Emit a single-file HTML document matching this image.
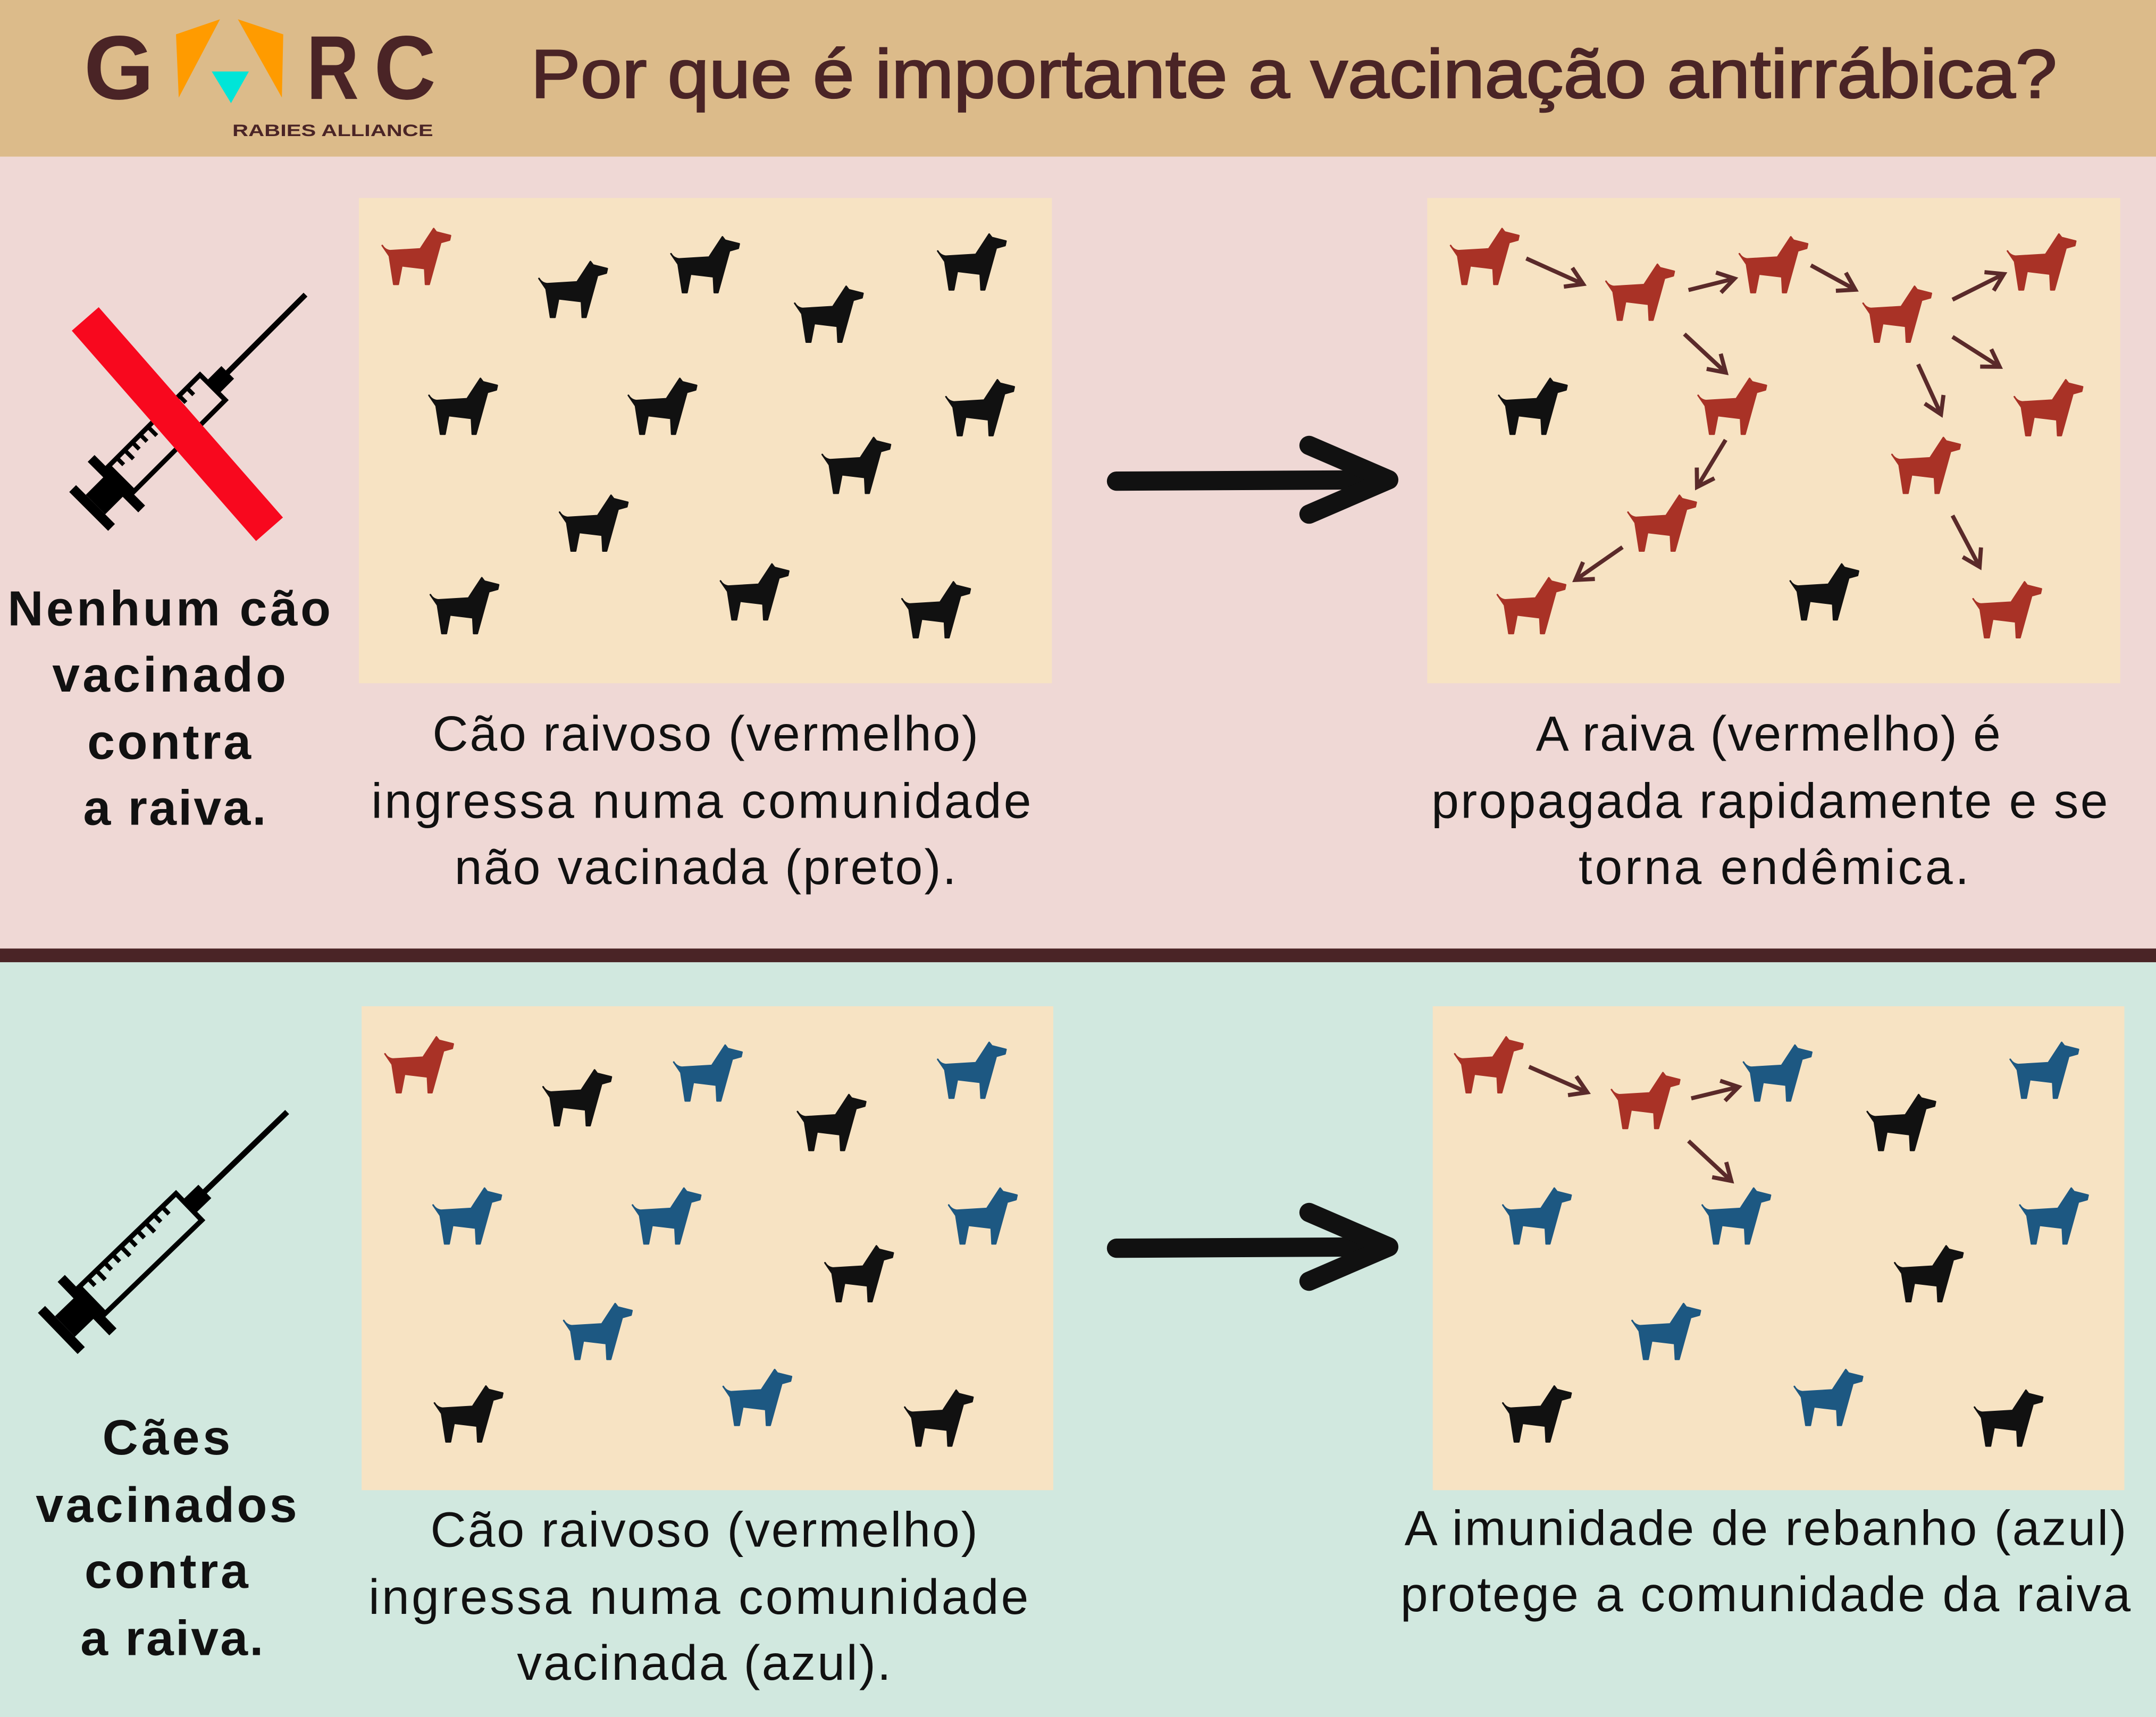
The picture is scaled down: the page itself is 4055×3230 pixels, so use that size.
<!DOCTYPE html>
<html><head><meta charset="utf-8"><style>html,body{margin:0;padding:0;overflow:hidden}svg{display:block}</style></head>
<body>
<svg width="4055" height="3230" viewBox="0 0 1568 1249" preserveAspectRatio="none" xmlns="http://www.w3.org/2000/svg" font-family="'Liberation Sans', sans-serif">
<defs>
<path id="dog" d="M0,12.6 Q2,16 5.8,16.4 L27.7,15.1 L37.4,0.3 L39.3,2.8 L49.6,5.4 L48.9,8.6 L42.5,10.4 L34.1,40.8 L31.5,40.8 L30.9,29.3 L14.2,27.3 L11.6,40.8 L8.4,40.8 L5.2,20.2 Z" stroke-width="1.2" stroke-linejoin="round"/>
<marker id="ah" markerWidth="6" markerHeight="6" refX="4" refY="3" orient="auto" markerUnits="strokeWidth"><path d="M0.5,0.5 L4.5,3 L0.5,5.5" fill="none" stroke="#5a2a2a" stroke-width="1"/></marker>
<g id="syr">
<rect x="0" y="-20" width="7" height="40"/>
<rect x="7" y="-10" width="19" height="20"/>
<rect x="25" y="-26" width="7" height="52"/>
<rect x="33.5" y="-13" width="94" height="26" fill="none" stroke="#000" stroke-width="3.5"/>
<rect x="127" y="-6.5" width="16" height="13"/>
<rect x="142" y="-2" width="81" height="4"/>
<g stroke="#000" stroke-width="3">
<line x1="42" y1="-13" x2="42" y2="-6"/><line x1="50" y1="-13" x2="50" y2="-4"/><line x1="58" y1="-13" x2="58" y2="-6"/><line x1="66" y1="-13" x2="66" y2="-6"/><line x1="74" y1="-13" x2="74" y2="-4"/><line x1="82" y1="-13" x2="82" y2="-6"/><line x1="90" y1="-13" x2="90" y2="-6"/><line x1="98" y1="-13" x2="98" y2="-4"/><line x1="106" y1="-13" x2="106" y2="-6"/><line x1="114" y1="-13" x2="114" y2="-6"/>
</g>
</g>
</defs>
<rect x="0" y="0" width="1568" height="114" fill="#dcbb8a"/>
<rect x="0" y="114" width="1568" height="577" fill="#efd8d5"/>
<rect x="0" y="690" width="1568" height="10" fill="#4a2426"/>
<rect x="0" y="700" width="1568" height="549" fill="#d1e8df"/>

<text x="61" y="72" font-size="66" font-weight="bold" fill="#4a2426" textLength="51" lengthAdjust="spacingAndGlyphs">G</text>
<polygon points="128,25 160,14 130,71" fill="#ff9b00"/>
<polygon points="173,14 206,25 205,71" fill="#ff9b00"/>
<polygon points="154,52 181,52 168,75" fill="#00e5d8"/>
<text x="223" y="72" font-size="66" font-weight="bold" fill="#4a2426" textLength="38" lengthAdjust="spacingAndGlyphs">R</text>
<text x="272" y="72" font-size="66" font-weight="bold" fill="#4a2426" textLength="45" lengthAdjust="spacingAndGlyphs">C</text>
<text x="169" y="99" font-size="12" font-weight="bold" fill="#4a2426" textLength="146" lengthAdjust="spacingAndGlyphs">RABIES ALLIANCE</text>
<text x="386" y="71" font-size="50" fill="#4a2426" textLength="1110" lengthAdjust="spacingAndGlyphs" stroke="#4a2426" stroke-width="1">Por que é importante a vacinação antirrábica?</text>

<g transform="translate(64.5,372) rotate(-45)"><use href="#syr"/></g>
<line x1="62" y1="232" x2="196" y2="385" stroke="#f8081e" stroke-width="26"/>
<g font-size="36" font-weight="bold" fill="#111" text-anchor="middle" lengthAdjust="spacingAndGlyphs">
<text x="123" y="455" textLength="235">Nenhum cão</text><text x="123" y="503" textLength="170">vacinado</text><text x="123" y="552" textLength="119">contra</text><text x="127" y="600" textLength="133">a raiva.</text>
<text x="121" y="1058" textLength="93">Cães</text><text x="121" y="1107" textLength="190">vacinados</text><text x="121" y="1155" textLength="119">contra</text><text x="125" y="1204" textLength="133">a raiva.</text>
</g>

<rect x="261" y="144" width="504" height="353" fill="#f7e3c3"/>
<rect x="1038" y="144" width="504" height="353" fill="#f7e3c3"/>
<g fill="#a93226" stroke="#a93226">
<use href="#dog" x="278" y="166"/>
<use href="#dog" x="1055" y="166"/><use href="#dog" x="1168" y="192"/><use href="#dog" x="1265" y="172"/><use href="#dog" x="1355" y="208"/><use href="#dog" x="1460" y="170"/><use href="#dog" x="1235" y="275"/><use href="#dog" x="1465" y="276"/><use href="#dog" x="1376" y="318"/><use href="#dog" x="1184" y="360"/><use href="#dog" x="1089" y="420"/><use href="#dog" x="1435" y="423"/>
</g>
<g fill="#111" stroke="#111">
<use href="#dog" x="392" y="190"/><use href="#dog" x="488" y="172"/><use href="#dog" x="578" y="208"/><use href="#dog" x="682" y="170"/><use href="#dog" x="312" y="275"/><use href="#dog" x="457" y="275"/><use href="#dog" x="688" y="276"/><use href="#dog" x="598" y="318"/><use href="#dog" x="407" y="360"/><use href="#dog" x="313" y="420"/><use href="#dog" x="524" y="410"/><use href="#dog" x="656" y="423"/>
<use href="#dog" x="1090" y="275"/><use href="#dog" x="1302" y="410"/>
</g>
<g stroke="#5a2a2a" stroke-width="3" marker-end="url(#ah)">
<line x1="1110" y1="188" x2="1150" y2="206"/><line x1="1228" y1="211" x2="1260" y2="203"/><line x1="1317" y1="193" x2="1348" y2="210"/><line x1="1420" y1="218" x2="1456" y2="200"/><line x1="1225" y1="243" x2="1254" y2="270"/><line x1="1420" y1="245" x2="1453" y2="266"/><line x1="1395" y1="265" x2="1411" y2="300"/><line x1="1255" y1="320" x2="1235" y2="353"/><line x1="1420" y1="375" x2="1439" y2="411"/><line x1="1180" y1="398" x2="1147" y2="421"/>
</g>
<g stroke="#111" stroke-width="14" stroke-linecap="round" fill="none" stroke-linejoin="round">
<line x1="812" y1="350" x2="1008" y2="349"/><polyline points="952,324 1010,349 952,374"/>
<line x1="812" y1="908" x2="1008" y2="907"/><polyline points="952,882 1010,907 952,932"/>
</g>
<g font-size="36" fill="#111" text-anchor="middle" lengthAdjust="spacingAndGlyphs">
<text x="513" y="546" textLength="397">Cão raivoso (vermelho)</text><text x="510" y="595" textLength="480">ingressa numa comunidade</text><text x="513" y="643" textLength="365">não vacinada (preto).</text>
<text x="1286" y="546" textLength="338">A raiva (vermelho) é</text><text x="1287" y="595" textLength="492">propagada rapidamente e se</text><text x="1290" y="643" textLength="284">torna endêmica.</text>
<text x="512" y="1125" textLength="398">Cão raivoso (vermelho)</text><text x="508" y="1174" textLength="480">ingressa numa comunidade</text><text x="512" y="1222" textLength="272">vacinada (azul).</text>
<text x="1284" y="1124" textLength="525">A imunidade de rebanho (azul)</text><text x="1284" y="1172" textLength="531">protege a comunidade da raiva</text>
</g>

<g transform="translate(42,970) rotate(-44) scale(1.04)"><use href="#syr"/></g>
<rect x="263" y="732" width="503" height="352" fill="#f7e3c3"/>
<rect x="1042" y="732" width="503" height="352" fill="#f7e3c3"/>
<g fill="#a93226" stroke="#a93226">
<use href="#dog" x="280" y="754"/><use href="#dog" x="1058" y="754"/><use href="#dog" x="1172" y="780"/>
</g>
<g fill="#111" stroke="#111">
<use href="#dog" x="395" y="778"/><use href="#dog" x="580" y="796"/><use href="#dog" x="600" y="906"/><use href="#dog" x="316" y="1008"/><use href="#dog" x="658" y="1011"/>
<use href="#dog" x="1358" y="796"/><use href="#dog" x="1378" y="906"/><use href="#dog" x="1093" y="1008"/><use href="#dog" x="1436" y="1011"/>
</g>
<g fill="#1d5882" stroke="#1d5882">
<use href="#dog" x="490" y="760"/><use href="#dog" x="682" y="758"/><use href="#dog" x="315" y="864"/><use href="#dog" x="460" y="864"/><use href="#dog" x="690" y="864"/><use href="#dog" x="410" y="948"/><use href="#dog" x="526" y="996"/>
<use href="#dog" x="1268" y="760"/><use href="#dog" x="1462" y="758"/><use href="#dog" x="1093" y="864"/><use href="#dog" x="1238" y="864"/><use href="#dog" x="1469" y="864"/><use href="#dog" x="1187" y="948"/><use href="#dog" x="1305" y="996"/>
</g>
<g stroke="#5a2a2a" stroke-width="3" marker-end="url(#ah)">
<line x1="1112" y1="776" x2="1153" y2="794"/><line x1="1230" y1="799" x2="1263" y2="791"/><line x1="1228" y1="830" x2="1258" y2="858"/>
</g>
</svg>
</body></html>
